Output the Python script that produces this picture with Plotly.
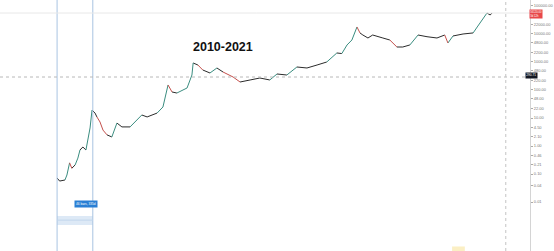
import plotly.graph_objects as go

# ---- data (weekly closes) ----
dates = [
    "2010-07-18", "2010-08-10", "2010-09-27", "2010-10-15", "2010-11-08", "2010-11-28",
    "2010-12-28", "2011-01-22", "2011-02-10", "2011-03-08", "2011-04-05", "2011-05-12",
    "2011-05-30", "2011-06-26", "2011-07-13", "2011-08-10", "2011-09-06", "2011-10-12",
    "2011-11-25", "2012-01-10", "2012-02-24", "2012-05-08", "2012-08-22", "2012-10-09",
    "2013-01-07", "2013-03-01", "2013-04-16", "2013-05-22", "2013-07-05", "2013-10-05",
    "2013-11-18", "2013-11-29", "2014-01-11", "2014-02-24", "2014-04-30", "2014-07-02",
    "2014-08-26", "2014-11-25", "2015-01-27", "2015-04-28", "2015-07-25", "2015-10-23",
    "2015-12-27", "2016-03-25", "2016-06-24", "2016-09-23", "2016-12-23", "2017-03-21",
    "2017-06-20", "2017-08-04", "2017-09-20", "2017-11-03", "2017-12-19", "2018-01-15",
    "2018-02-10", "2018-03-28", "2018-05-10", "2018-08-10", "2018-10-12", "2018-12-15",
    "2019-02-06", "2019-04-11", "2019-06-24", "2019-09-13", "2019-12-12", "2020-02-20",
    "2020-03-20", "2020-05-05", "2020-08-04", "2020-11-03", "2020-12-10", "2021-01-23",
    "2021-03-08", "2021-04-06", "2021-04-23",
]
closes = [
    0.072, 0.056, 0.061, 0.092, 0.25, 0.16,
    0.21, 0.37, 0.72, 0.92, 0.72, 4.4,
    19.3, 15.0, 10.9, 7.2, 3.7, 2.5,
    2.1, 6.6, 4.8, 4.8, 12.8, 10.9,
    15.0, 24.7, 151, 85, 78, 118,
    343, 921, 781, 518, 405, 611,
    439, 291, 193, 228, 268, 228,
    373, 343, 663, 611, 781, 1000,
    2100, 2000, 4050, 6100, 17800, 10900,
    9200, 7200, 9200, 7200, 6100, 3430,
    3430, 4050, 9200, 8000, 7200, 9200,
    4770, 8500, 10000, 10900, 17800, 31600,
    56000, 47700, 56000,
]

tick_vals = [0.01, 0.04, 0.10, 0.21, 0.46, 1.0, 2.1, 4.5, 10, 22, 48, 100, 220, 480,
             1000, 2200, 4800, 10000, 22000, 100000]
tick_text = ["0.01", "0.04", "0.10", "0.21", "0.46", "1.00", "2.10", "4.50", "10.00",
             "22.00", "48.00", "100.00", "220.00", "480.00", "1000.00", "2200.00",
             "4800.00", "10000.00", "22000.00", "100000.00"]

title_text = "2010-2021"
range_label = "46 bars, 335d"
last_label = "56120.00<br>3d 12h"
cross_label = "290.71"
cross_price = 291
cross_date = "2021-08-25"
range_start, range_end = "2010-07-18", "2011-06-06"

# ---- build segments coloured by direction ----
groups = {"up": ([], []), "down": ([], []), "flat": ([], [])}
for i in range(len(closes) - 1):
    r = closes[i + 1] / closes[i]
    key = "up" if r > 1.5 else ("down" if r < 0.7 else "flat")
    gx, gy = groups[key]
    gx += [dates[i], dates[i + 1], None]
    gy += [closes[i], closes[i + 1], None]

colors = {"flat": "#2b2b2b", "up": "#3a8d80", "down": "#c4504c"}

fig = go.Figure()
for key in ["flat", "up", "down"]:
    gx, gy = groups[key]
    fig.add_trace(go.Scatter(x=gx, y=gy, mode="lines",
                             line=dict(color=colors[key], width=1),
                             hoverinfo="skip", showlegend=False))

shapes = []
# blue range lines
for d in (range_start, range_end):
    shapes.append(dict(type="line", xref="x", yref="paper", x0=d, x1=d, y0=0, y1=1,
                       line=dict(color="#a9c4e2", width=1)))
# light blue band between them
shapes.append(dict(type="rect", xref="x", yref="paper", x0=range_start, x1=range_end,
                   y0=0.104, y1=0.139, fillcolor="#dde9f6", line=dict(width=0), layer="below"))
shapes.append(dict(type="line", xref="x", yref="paper", x0=range_start, x1=range_end,
                   y0=0.123, y1=0.123, line=dict(color="#c2d6ec", width=1)))
# last price line
shapes.append(dict(type="line", xref="paper", yref="y", x0=0, x1=1,
                   y0=closes[-1], y1=closes[-1], line=dict(color="#e8e8e8", width=1)))
# crosshair
shapes.append(dict(type="line", xref="paper", yref="y", x0=0, x1=1,
                   y0=cross_price, y1=cross_price,
                   line=dict(color="#b8b8b8", width=1, dash="dot")))
shapes.append(dict(type="line", xref="x", yref="paper", x0=cross_date, x1=cross_date,
                   y0=0, y1=1, line=dict(color="#c4c4c4", width=1, dash="dot")))
# faint yellow mark at bottom
shapes.append(dict(type="rect", xref="paper", yref="paper", x0=0.853, x1=0.877,
                   y0=0, y1=0.018, fillcolor="#fbefc4", line=dict(width=0)))

annotations = [
    dict(text="<b>" + title_text + "</b>", xref="paper", yref="paper",
         x=223 / 530, y=1 - 38 / 251, showarrow=False,
         font=dict(family="Liberation Sans, Arial", size=12.5, color="#111")),
    dict(text=range_label, xref="paper", yref="paper", x=74 / 530, y=1 - 208 / 251,
         showarrow=False, bgcolor="#2a7fd4", borderpad=1,
         font=dict(family="Liberation Sans, Arial", size=3.2, color="white")),
    dict(text=last_label, xref="paper", yref="y", x=0.998, y=4.70, xanchor="left",
         showarrow=False, bgcolor="#e8484a", borderpad=0.3, align="left",
         font=dict(family="Liberation Sans, Arial", size=2.7, color="white")),
    dict(text=cross_label, xref="paper", yref="y", x=0.99, y=2.50, xanchor="left",
         showarrow=False, bgcolor="#131722", borderpad=0.3,
         font=dict(family="Liberation Sans, Arial", size=3.2, color="white")),
]

fig.update_layout(
    width=554, height=251,
    margin=dict(l=0, r=24, t=0, b=0),
    paper_bgcolor="white", plot_bgcolor="white",
    showlegend=False,
    shapes=shapes, annotations=annotations,
    xaxis=dict(type="date", range=["2009-02-17", "2022-04-01"], showgrid=False,
               showticklabels=False, zeroline=False, showline=False, ticks=""),
    yaxis=dict(type="log", range=[-3.75, 5.214], side="right", showgrid=False,
               zeroline=False, showline=True, linecolor="#d4d4d4", linewidth=1,
               tickvals=tick_vals, ticktext=tick_text, ticks="outside", ticklen=2,
               tickcolor="#aaaaaa",
               tickfont=dict(family="Liberation Sans, Arial", size=4, color="#777")),
)

fig.write_html("out.html")
